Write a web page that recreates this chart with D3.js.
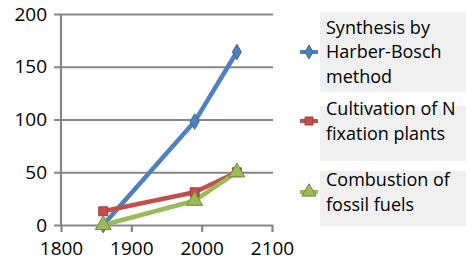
<!DOCTYPE html>
<html>
<head>
<meta charset="utf-8">
<script src="https://cdn.jsdelivr.net/npm/d3@7"></script>
<style>
  body { margin: 0; background: #fff; }
  text { font-family: "Open Sans", "Liberation Sans", sans-serif; fill: #000; }
</style>
</head>
<body>
<svg id="chart" width="466" height="261"></svg>
<script>
const years = [1860, 1990, 2050];
const haberBosch = [0, 98, 164];
const nFixation = [13, 31, 50];
const fossilFuels = [0, 23, 50];
const xTicks = [1800, 1900, 2000, 2100];
const yTicks = [0, 50, 100, 150, 200];
const seriesNames = [
  ['Synthesis by', 'Harber-Bosch', 'method'],
  ['Cultivation of N', 'fixation plants'],
  ['Combustion of', 'fossil fuels']
];

const series = [
  {values: haberBosch, color: '#4f81bd', dark: '#3a67a0', shape: d3.symbolDiamond, size: 70},
  {values: nFixation, color: '#c0504d', dark: '#a03b38', shape: d3.symbolSquare, size: 80},
  {values: fossilFuels, color: '#9bbb59', dark: '#6f8a3a', shape: d3.symbolTriangle, size: 110}
];

const margin = {top: 14, left: 61};
const w = 211, h = 211;
const x = d3.scaleLinear().domain([1800, 2100]).range([0, w]);
const y = d3.scaleLinear().domain([0, 200]).range([h, 0]);

const svg = d3.select('#chart');
const g = svg.append('g').attr('transform', `translate(${margin.left},${margin.top})`);

// gridlines + y axis
const yAxis = g.append('g')
  .call(d3.axisLeft(y).tickValues(yTicks).tickSize(-w - 1).tickPadding(14).tickSizeOuter(0));
yAxis.select('.domain').remove();
yAxis.selectAll('line').attr('stroke', '#878787').attr('stroke-width', 2.2).attr('x1', -7);
yAxis.selectAll('text').style('font-size', '19px').attr('dx', 0);

// vertical axis line
g.append('line').attr('x1', 0).attr('x2', 0).attr('y1', 0).attr('y2', h)
  .attr('stroke', '#878787').attr('stroke-width', 2.2);

const xAxis = g.append('g').attr('transform', `translate(0,${h})`)
  .call(d3.axisBottom(x).tickValues(xTicks).tickFormat(d3.format('d')).tickSize(7).tickPadding(10).tickSizeOuter(0));
xAxis.select('.domain').remove();
xAxis.selectAll('line').attr('stroke', '#878787').attr('stroke-width', 2.2);
xAxis.selectAll('text').style('font-size', '19px');

const line = d3.line().x((d, i) => x(years[i])).y(d => y(d));

series.forEach(s => {
  g.append('path').datum(s.values).attr('d', line)
    .attr('fill', 'none').attr('stroke', s.color).attr('stroke-width', 4.5)
    .attr('stroke-linejoin', 'round');
});
series.forEach(s => {
  g.selectAll(null).data(s.values).enter().append('path')
    .attr('transform', (d, i) => `translate(${x(years[i])},${y(d)})`)
    .attr('d', d3.symbol().type(s.shape).size(s.size))
    .attr('fill', s.color).attr('stroke', s.dark).attr('stroke-width', 1);
});

// legend
const boxes = [{y0: 12, y1: 92, mid: 52}, {y0: 106, y1: 161, mid: 121}, {y0: 171, y1: 226, mid: 192}];
const lg = svg.append('g');
series.forEach((s, i) => {
  const b = boxes[i];
  lg.append('rect').attr('x', 320).attr('y', b.y0).attr('width', 146).attr('height', b.y1 - b.y0)
    .attr('fill', '#f0f0f0');
  lg.append('line').attr('x1', 300).attr('x2', 318).attr('y1', b.mid).attr('y2', b.mid)
    .attr('stroke', s.color).attr('stroke-width', 4);
  lg.append('path').attr('transform', `translate(309,${b.mid})`)
    .attr('d', d3.symbol().type(s.shape).size(s.size * 0.8))
    .attr('fill', s.color).attr('stroke', s.dark).attr('stroke-width', 1);
  const names = seriesNames[i];
  const lh = 24.5;
  const top = b.mid - (names.length - 1) * lh / 2;
  names.forEach((t, j) => {
    lg.append('text').attr('x', 326).attr('y', top + j * lh).attr('dy', '0.35em')
      .style('font-size', '18px').text(t);
  });
});
</script>
</body>
</html>
